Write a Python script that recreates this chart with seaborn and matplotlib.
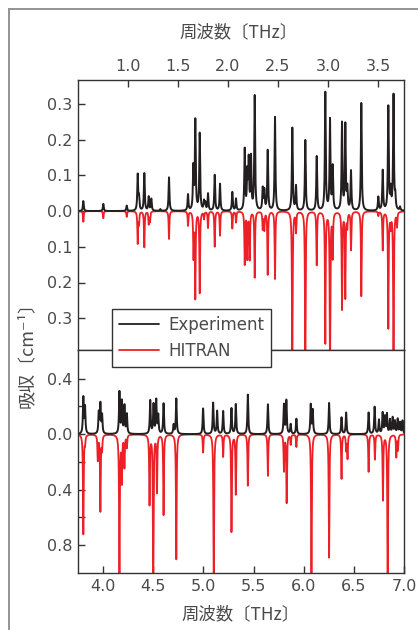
import numpy as np
import pandas as pd
import seaborn as sns
import matplotlib.pyplot as plt
from matplotlib.lines import Line2D

# Line positions (THz) and peak absorption (cm^-1)
exp_top_pos = [0.553, 0.753, 0.987, 1.097, 1.11, 1.163, 1.207, 1.233, 1.323, 1.41,
               1.60, 1.653, 1.673, 1.717, 1.76, 1.773, 1.80, 1.867, 1.92, 2.043,
               2.08, 2.167, 2.193, 2.207, 2.23, 2.267, 2.347, 2.363, 2.397, 2.47,
               2.643, 2.68, 2.773, 2.887, 2.973, 3.02, 3.047, 3.14, 3.173, 3.193,
               3.23, 3.333, 3.503, 3.547, 3.603, 3.627, 3.655, 3.673, 3.72]
exp_top_amp = [0.028, 0.020, 0.015, 0.100, 0.035, 0.105, 0.039, 0.033, 0.005, 0.094,
               0.045, 0.118, 0.250, 0.215, 0.025, 0.020, 0.047, 0.100, 0.075, 0.052,
               0.033, 0.170, 0.100, 0.135, 0.145, 0.320, 0.060, 0.054, 0.168, 0.262,
               0.232, 0.068, 0.198, 0.152, 0.330, 0.252, 0.120, 0.243, 0.238, 0.058,
               0.110, 0.302, 0.038, 0.112, 0.290, 0.054, 0.322, 0.034, 0.010]

hit_top_pos = [0.553, 0.753, 0.987, 1.097, 1.11, 1.163, 1.207, 1.22, 1.41, 1.60,
               1.655, 1.673, 1.717, 1.76, 1.80, 1.867, 1.92, 2.043, 2.08, 2.167,
               2.193, 2.217, 2.267, 2.347, 2.363, 2.397, 2.47, 2.643, 2.68, 2.773,
               2.887, 2.973, 3.02, 3.047, 3.14, 3.173, 3.193, 3.23, 3.333, 3.503,
               3.547, 3.603, 3.627, 3.655, 3.69]
hit_top_amp = [0.030, 0.020, 0.016, 0.089, 0.033, 0.101, 0.035, 0.028, 0.078, 0.040,
               0.125, 0.240, 0.228, 0.020, 0.046, 0.099, 0.068, 0.048, 0.031, 0.147,
               0.130, 0.133, 0.185, 0.048, 0.050, 0.177, 0.189, 0.450, 0.056, 0.450,
               0.150, 0.368, 0.450, 0.125, 0.272, 0.240, 0.040, 0.107, 0.238, 0.012,
               0.108, 0.326, 0.038, 0.450, 0.040]

exp_bot_pos = [3.803, 3.82, 3.957, 3.973, 3.99, 4.163, 4.187, 4.213, 4.237, 4.47,
               4.503, 4.53, 4.55, 4.603, 4.703, 4.73, 4.997, 5.097, 5.137, 5.197,
               5.28, 5.323, 5.443, 5.643, 5.803, 5.827, 5.87, 5.927, 6.07, 6.09,
               6.253, 6.377, 6.423, 6.647, 6.707, 6.75, 6.787, 6.81, 6.83, 6.86,
               6.887, 6.91, 6.937, 6.96, 6.985]
exp_bot_amp = [0.26, 0.19, 0.15, 0.21, 0.13, 0.30, 0.23, 0.20, 0.14, 0.24,
               0.21, 0.24, 0.13, 0.22, 0.065, 0.255, 0.185, 0.225, 0.165, 0.165,
               0.185, 0.215, 0.285, 0.215, 0.21, 0.24, 0.07, 0.11, 0.21, 0.17,
               0.225, 0.12, 0.155, 0.155, 0.195, 0.10, 0.15, 0.12, 0.14, 0.10,
               0.115, 0.09, 0.105, 0.08, 0.095]

hit_bot_pos = [3.803, 3.82, 3.947, 3.973, 3.99, 4.163, 4.187, 4.213, 4.237, 4.463,
               4.50, 4.537, 4.603, 4.73, 4.997, 5.103, 5.197, 5.28, 5.323, 5.443,
               5.643, 5.803, 5.83, 5.87, 5.927, 6.077, 6.253, 6.377, 6.423, 6.437,
               6.647, 6.71, 6.79, 6.837, 6.923, 6.94]
hit_bot_amp = [0.72, 0.05, 0.18, 0.55, 0.10, 1.10, 0.33, 0.23, 0.09, 0.50,
               1.10, 0.41, 0.58, 0.90, 0.13, 1.10, 0.16, 0.70, 0.43, 0.37,
               0.30, 0.26, 0.49, 0.07, 0.09, 1.10, 0.89, 0.32, 0.11, 0.17,
               0.27, 0.18, 0.47, 1.10, 0.16, 0.11]


def line_profile(grid, centers, amps, hwhm):
    # Lorentzian line shape for each listed line
    y = np.zeros_like(grid)
    for c, a in zip(centers, amps):
        y += a * hwhm ** 2 / ((grid - c) ** 2 + hwhm ** 2)
    return y


sns.set_style("ticks")
plt.rcParams["font.family"] = ["DejaVu Sans", "Noto Sans CJK JP"]
txt_col = "#4a4a4a"
jp_font = ["Noto Sans CJK JP", "DejaVu Sans"]
black = "#231f20"
red = "#ec2027"

fig = plt.figure(figsize=(4.18, 6.30), dpi=100)
W, H = 418, 630
ax_top = fig.add_axes([78 / W, 1 - 350 / H, 326 / W, 270 / H])
ax_bot = fig.add_axes([78 / W, 1 - 573 / H, 326 / W, 223 / H])

panels = [
    (ax_top, (0.5, 3.76), exp_top_pos, exp_top_amp, hit_top_pos, hit_top_amp),
    (ax_bot, (3.75, 7.0), exp_bot_pos, exp_bot_amp, hit_bot_pos, hit_bot_amp),
]
for ax, (x0, x1), ep, ea, hp, ha in panels:
    grid = np.arange(x0, x1 + 0.0004, 0.0004)
    hit = pd.DataFrame({"freq": grid, "absorb": -line_profile(grid, hp, ha, 0.004)})
    exp = pd.DataFrame({"freq": grid, "absorb": line_profile(grid, ep, ea, 0.005)})
    sns.lineplot(data=hit, x="freq", y="absorb", color=red, lw=1.3,
                 estimator=None, ax=ax)
    sns.lineplot(data=exp, x="freq", y="absorb", color=black, lw=1.4,
                 estimator=None, ax=ax)
    ax.set_xlim(x0, x1)
    ax.set_xlabel("")
    ax.set_ylabel("")
    for s in ax.spines.values():
        s.set_color("#333333")
        s.set_linewidth(1.0)
    ax.tick_params(direction="in", length=5, width=1, color="#333333",
                   labelsize=11.5, labelcolor=txt_col, pad=4)

# top panel: frequency axis on top, mirrored absorbance scale
ax_top.set_ylim(-0.389, 0.367)
ax_top.xaxis.tick_top()
ax_top.set_xticks([1.0, 1.5, 2.0, 2.5, 3.0, 3.5])
ax_top.set_xticklabels(["1.0", "1.5", "2.0", "2.5", "3.0", "3.5"])
yt = [-0.3, -0.2, -0.1, 0.0, 0.1, 0.2, 0.3]
ax_top.set_yticks(yt)
ax_top.set_yticklabels([f"{abs(v):.1f}" for v in yt])

ax_bot.set_ylim(-1.0, 0.607)
ax_bot.set_xticks([4.0, 4.5, 5.0, 5.5, 6.0, 6.5, 7.0])
ax_bot.set_xticklabels(["4.0", "4.5", "5.0", "5.5", "6.0", "6.5", "7.0"])
yb = [-0.8, -0.6, -0.4, -0.2, 0.0, 0.2, 0.4]
ax_bot.set_yticks(yb)
ax_bot.set_yticklabels([f"{abs(v):.1f}" if round(v / 0.4, 6) % 1 == 0 else ""
                        for v in yb])

fig.text(238 / W, 1 - 32 / H, "周波数〔THz〕", ha="center", va="center",
         fontsize=12.5, color=txt_col, family=jp_font)
fig.text(240 / W, 1 - 614 / H, "周波数〔THz〕", ha="center", va="center",
         fontsize=12.5, color=txt_col, family=jp_font)
fig.text(27 / W, 1 - 350 / H, "吸収〔cm⁻¹〕", ha="center", va="center",
         rotation=90, fontsize=13, color=txt_col, family=jp_font)

handles = [Line2D([], [], color=black, lw=1.3), Line2D([], [], color=red, lw=1.3)]
leg = fig.legend(handles, ["Experiment", "HITRAN"], loc="upper left",
                 bbox_to_anchor=(112 / W, 1 - 309 / H), borderaxespad=0,
                 frameon=True, fancybox=False, framealpha=1, fontsize=12,
                 handlelength=2.4, handletextpad=0.6, labelspacing=0.5,
                 borderpad=0.4)
leg.get_frame().set_edgecolor("#333333")
leg.get_frame().set_linewidth(1.0)
for t in leg.get_texts():
    t.set_color(txt_col)

# outer frame (top and left edges of the clipping)
fig.add_artist(Line2D([9 / W, 1], [1 - 9 / H, 1 - 9 / H], transform=fig.transFigure,
                      color="#8a8a8a", lw=1.3))
fig.add_artist(Line2D([9 / W, 9 / W], [0, 1 - 9 / H], transform=fig.transFigure,
                      color="#8a8a8a", lw=1.3))

fig.savefig("out.png", dpi=100)
